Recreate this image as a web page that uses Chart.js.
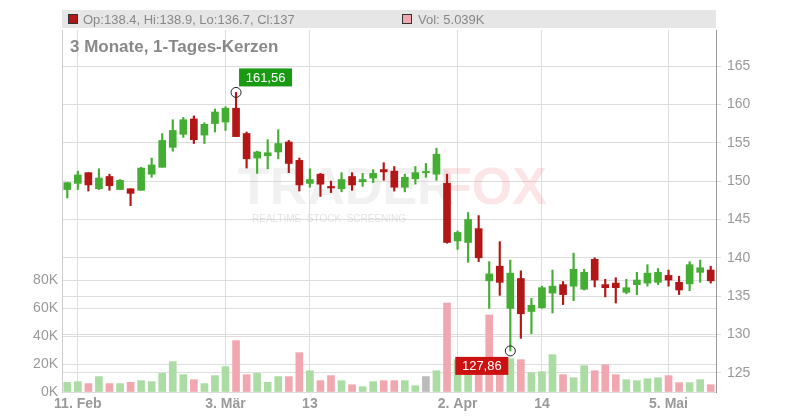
<!DOCTYPE html>
<html>
<head>
<meta charset="utf-8">
<script src="https://cdn.jsdelivr.net/npm/chart.js@4/dist/chart.umd.min.js"></script>
<style>
  html, body { margin: 0; padding: 0; background: #fff; }
  #wrap { width: 800px; height: 420px; position: relative; }
</style>
</head>
<body>
<div id="wrap"><canvas id="chart" width="800" height="420"></canvas></div>
<script>
var dates = ['10.02', '11.02', '12.02', '13.02', '14.02', '17.02', '18.02', '19.02', '20.02', '21.02',
  '24.02', '25.02', '26.02', '27.02', '28.02', '03.03', '04.03', '05.03', '06.03', '07.03',
  '10.03', '11.03', '12.03', '13.03', '14.03', '17.03', '18.03', '19.03', '20.03', '21.03',
  '24.03', '25.03', '26.03', '27.03', '28.03', '31.03', '01.04', '02.04', '03.04', '04.04',
  '07.04', '08.04', '09.04', '10.04', '11.04', '14.04', '15.04', '16.04', '17.04', '22.04',
  '23.04', '24.04', '25.04', '28.04', '29.04', '30.04', '02.05', '05.05', '06.05', '07.05',
  '08.05', '09.05'];
var tickNames = { '11.02': '11. Feb', '03.03': '3. Mär', '13.03': '13', '02.04': '2. Apr', '14.04': '14', '05.05': '5. Mai' };

var opens = [148.9, 149.7, 151.1, 149.0, 150.6, 148.9, 149.0, 148.8, 150.9, 151.8,
  154.4, 156.1, 158.1, 156.0, 157.5, 157.7, 159.5, 156.2, 153.0, 153.3,
  153.8, 155.1, 152.7, 149.7, 150.9, 149.3, 149.0, 150.6, 149.9, 150.4,
  151.5, 151.3, 149.2, 150.3, 151.1, 150.9, 149.7, 142.2, 142.0, 143.8,
  137.0, 138.9, 133.4, 137.3, 133.0, 133.5, 135.4, 136.5, 136.3, 135.9,
  139.8, 136.5, 136.7, 135.5, 136.5, 136.7, 136.8, 137.7, 136.8, 136.6,
  138.1, 138.4];
var highs = [149.8, 151.3, 151.1, 151.6, 150.9, 150.2, 149.0, 151.8, 153.0, 156.2,
  158.0, 158.3, 158.5, 157.6, 159.4, 159.7, 161.56, 156.4, 153.9, 155.4,
  156.7, 155.3, 153.0, 151.6, 151.0, 150.0, 151.1, 151.1, 151.0, 151.5,
  152.4, 151.9, 150.9, 151.9, 152.3, 154.3, 150.9, 143.5, 145.9, 145.5,
  139.5, 142.1, 139.7, 138.3, 134.7, 136.3, 138.4, 136.9, 140.6, 138.5,
  140.0, 137.2, 137.4, 137.2, 138.1, 139.1, 138.6, 138.4, 137.6, 139.5,
  139.7, 138.9];
var lows = [147.8, 148.9, 148.7, 148.9, 148.8, 148.9, 146.8, 148.8, 150.5, 151.8,
  153.9, 155.7, 154.9, 154.9, 156.4, 156.6, 155.8, 151.7, 151.0, 151.6,
  152.9, 151.1, 148.7, 149.2, 148.0, 148.5, 148.6, 148.8, 149.3, 149.8,
  150.1, 148.7, 148.6, 149.6, 150.5, 150.1, 141.9, 141.1, 139.4, 139.5,
  133.4, 135.1, 127.86, 129.5, 130.1, 133.4, 132.8, 133.9, 134.4, 135.8,
  136.2, 134.9, 134.1, 135.3, 135.2, 136.3, 136.5, 136.3, 135.2, 135.7,
  136.8, 136.7];
var closes = [149.8, 150.8, 149.5, 150.4, 149.4, 150.1, 148.4, 151.7, 152.1, 155.3,
  156.6, 158.0, 155.4, 157.4, 159.0, 159.5, 155.8, 152.9, 153.8, 153.7,
  154.9, 152.3, 149.5, 150.2, 149.6, 149.1, 150.2, 149.5, 150.2, 151.0,
  151.2, 149.2, 150.5, 151.1, 151.1, 153.5, 142.0, 143.3, 145.0, 140.0,
  137.9, 136.8, 138.0, 132.7, 133.8, 136.1, 136.3, 135.2, 138.5, 138.1,
  137.1, 136.1, 136.1, 136.1, 137.1, 138.0, 138.1, 137.1, 135.8, 139.1,
  138.7, 137.0];
var volumes = [6.9, 7.4, 6.0, 11.0, 6.0, 6.0, 6.9, 8.1, 7.4, 13.3,
  21.7, 12.4, 8.8, 6.0, 11.7, 18.1, 36.7, 12.4, 13.3, 6.9,
  11.0, 11.0, 28.1, 15.2, 8.1, 11.7, 8.1, 5.2, 3.8, 7.4,
  8.1, 8.1, 8.1, 4.5, 11.0, 15.2, 63.6, 23.1, 20.0, 20.0,
  55.0, 22.0, 23.8, 23.1, 13.8, 14.5, 26.7, 12.4, 10.2, 18.8,
  15.2, 19.5, 12.4, 8.8, 8.1, 9.5, 10.2, 11.7, 6.7, 6.7,
  8.8, 5.2];
// volume bars whose tone differs from their candle (index -> 'r' / 'g')
var volToneOverrides = { 40: 'r' };
var priceTicks = [125, 130, 135, 140, 145, 150, 155, 160, 165];
var volTicks = [0, 20, 40, 60, 80];

var GREEN = '#44ad33', RED = '#b31616';
var candleColors = dates.map(function (d, i) { return closes[i] >= opens[i] ? GREEN : RED; });
var volColors = dates.map(function (d, i) {
  var t = volToneOverrides[i] || (closes[i] > opens[i] ? 'g' : (closes[i] < opens[i] ? 'r' : 'n'));
  return t === 'g' ? '#abdca3' : (t === 'r' ? '#f0a7b0' : '#bbbbbb');
});
var wicks = dates.map(function (d, i) { return [lows[i], highs[i]]; });
var bodies = dates.map(function (d, i) {
  var o = opens[i], c = closes[i];
  if (Math.abs(o - c) < 0.15) { c = o + 0.15; }
  return [o, c];
});

function label(ctx, txt, x, y, w, bg) {
  ctx.fillStyle = bg;
  ctx.fillRect(x, y, w, 18);
  ctx.fillStyle = '#fff';
  ctx.font = '13px "Liberation Sans", Arial, sans-serif';
  ctx.textAlign = 'center';
  ctx.textBaseline = 'middle';
  ctx.fillText(txt, x + w / 2, y + 10);
}

var decorPlugin = {
  id: 'decor',
  beforeDatasetsDraw: function (chart) {
    var ctx = chart.ctx;
    ctx.save();
    ctx.textBaseline = 'middle';
    ctx.textAlign = 'left';
    ctx.font = 'bold 52px "Liberation Sans", Arial, sans-serif';
    ctx.fillStyle = 'rgba(200,200,200,0.25)';
    ctx.fillText('TRADER', 238, 190);
    ctx.fillStyle = 'rgba(240,150,160,0.25)';
    ctx.fillText('FOX', 440, 190);
    ctx.font = '10px "Liberation Sans", Arial, sans-serif';
    ctx.fillStyle = 'rgba(190,190,190,0.45)';
    ctx.fillText('REALTIME  STOCK  SCREENING', 252, 219);
    ctx.restore();
  },
  afterDraw: function (chart) {
    var ctx = chart.ctx;
    var x = chart.scales.x, y = chart.scales.y;
    ctx.save();
    ctx.fillStyle = '#e6e6e6';
    ctx.fillRect(62, 10, 654, 18);
    ctx.fillStyle = RED;
    ctx.fillRect(68, 14, 10, 10);
    ctx.strokeStyle = '#333';
    ctx.strokeRect(68.5, 14.5, 9, 9);
    ctx.fillStyle = '#f0a7b0';
    ctx.fillRect(402, 14, 10, 10);
    ctx.strokeRect(402.5, 14.5, 9, 9);
    ctx.fillStyle = '#888';
    ctx.font = '13px "Liberation Sans", Arial, sans-serif';
    ctx.textBaseline = 'middle';
    ctx.textAlign = 'left';
    ctx.fillText('Op:138.4, Hi:138.9, Lo:136.7, Cl:137', 83, 20);
    ctx.fillText('Vol: 5.039K', 418, 20);
    ctx.font = 'bold 17px "Liberation Sans", Arial, sans-serif';
    ctx.fillText('3 Monate, 1-Tages-Kerzen', 70, 47);

    var hi = highs.indexOf(Math.max.apply(null, highs));
    var lo = lows.indexOf(Math.min.apply(null, lows));
    var hx = x.getPixelForValue(hi), hy = y.getPixelForValue(highs[hi]);
    var lx = x.getPixelForValue(lo), ly = y.getPixelForValue(lows[lo]);
    ctx.strokeStyle = '#222';
    ctx.lineWidth = 1;
    ctx.beginPath(); ctx.arc(hx, hy, 5, 0, Math.PI * 2); ctx.stroke();
    ctx.beginPath(); ctx.arc(lx, ly, 5, 0, Math.PI * 2); ctx.stroke();
    label(ctx, '161,56', hx + 3, hy - 24, 53, '#1a9a12');
    label(ctx, '127,86', lx - 55, ly + 6, 53, '#cc1111');
    ctx.restore();
  }
};

new Chart(document.getElementById('chart'), {
  type: 'bar',
  data: {
    labels: dates,
    datasets: [
      { data: wicks, backgroundColor: candleColors, barThickness: 1.5, grouped: false, yAxisID: 'y', order: 1 },
      { data: bodies, backgroundColor: candleColors, barThickness: 7, grouped: false, yAxisID: 'y', order: 0 },
      { data: volumes, backgroundColor: volColors, barThickness: 7, grouped: false, yAxisID: 'yv', order: 2 }
    ]
  },
  options: {
    responsive: false,
    animation: false,
    layout: { padding: { top: 30, left: 0, right: 0, bottom: 0 } },
    plugins: { legend: { display: false }, tooltip: { enabled: false } },
    scales: {
      x: {
        offset: true,
        grid: {
          offset: false,
          color: function (c) { return tickNames[dates[c.index]] ? '#dddddd' : 'rgba(0,0,0,0)'; },
          drawTicks: false
        },
        border: { display: false },
        ticks: {
          autoSkip: false, maxRotation: 0, padding: 4,
          color: '#999', font: { size: 14, weight: 'bold', family: '"Liberation Sans", Arial, sans-serif' },
          callback: function (v) { return tickNames[dates[v]] || ''; }
        },
        afterFit: function (s) { s.height = 28; }
      },
      y: {
        position: 'right',
        min: 122.5, max: 169.7,
        afterBuildTicks: function (s) { s.ticks = priceTicks.map(function (v) { return { value: v }; }); },
        grid: { color: '#dddddd', drawTicks: true, tickLength: 5 },
        border: { color: '#999' },
        ticks: { color: '#999', padding: 6, font: { size: 14, family: '"Liberation Sans", Arial, sans-serif' } },
        afterFit: function (s) { s.width = 84; }
      },
      yv: {
        position: 'left',
        min: 0, max: 258.6,
        afterBuildTicks: function (s) { s.ticks = volTicks.map(function (v) { return { value: v }; }); },
        grid: { color: '#dddddd', drawTicks: false },
        border: { color: '#cccccc' },
        ticks: {
          color: '#999', padding: 4, font: { size: 14, family: '"Liberation Sans", Arial, sans-serif' },
          callback: function (v) { return v + 'K'; }
        },
        afterFit: function (s) { s.width = 62; }
      }
    }
  },
  plugins: [decorPlugin]
});
</script>
</body>
</html>
